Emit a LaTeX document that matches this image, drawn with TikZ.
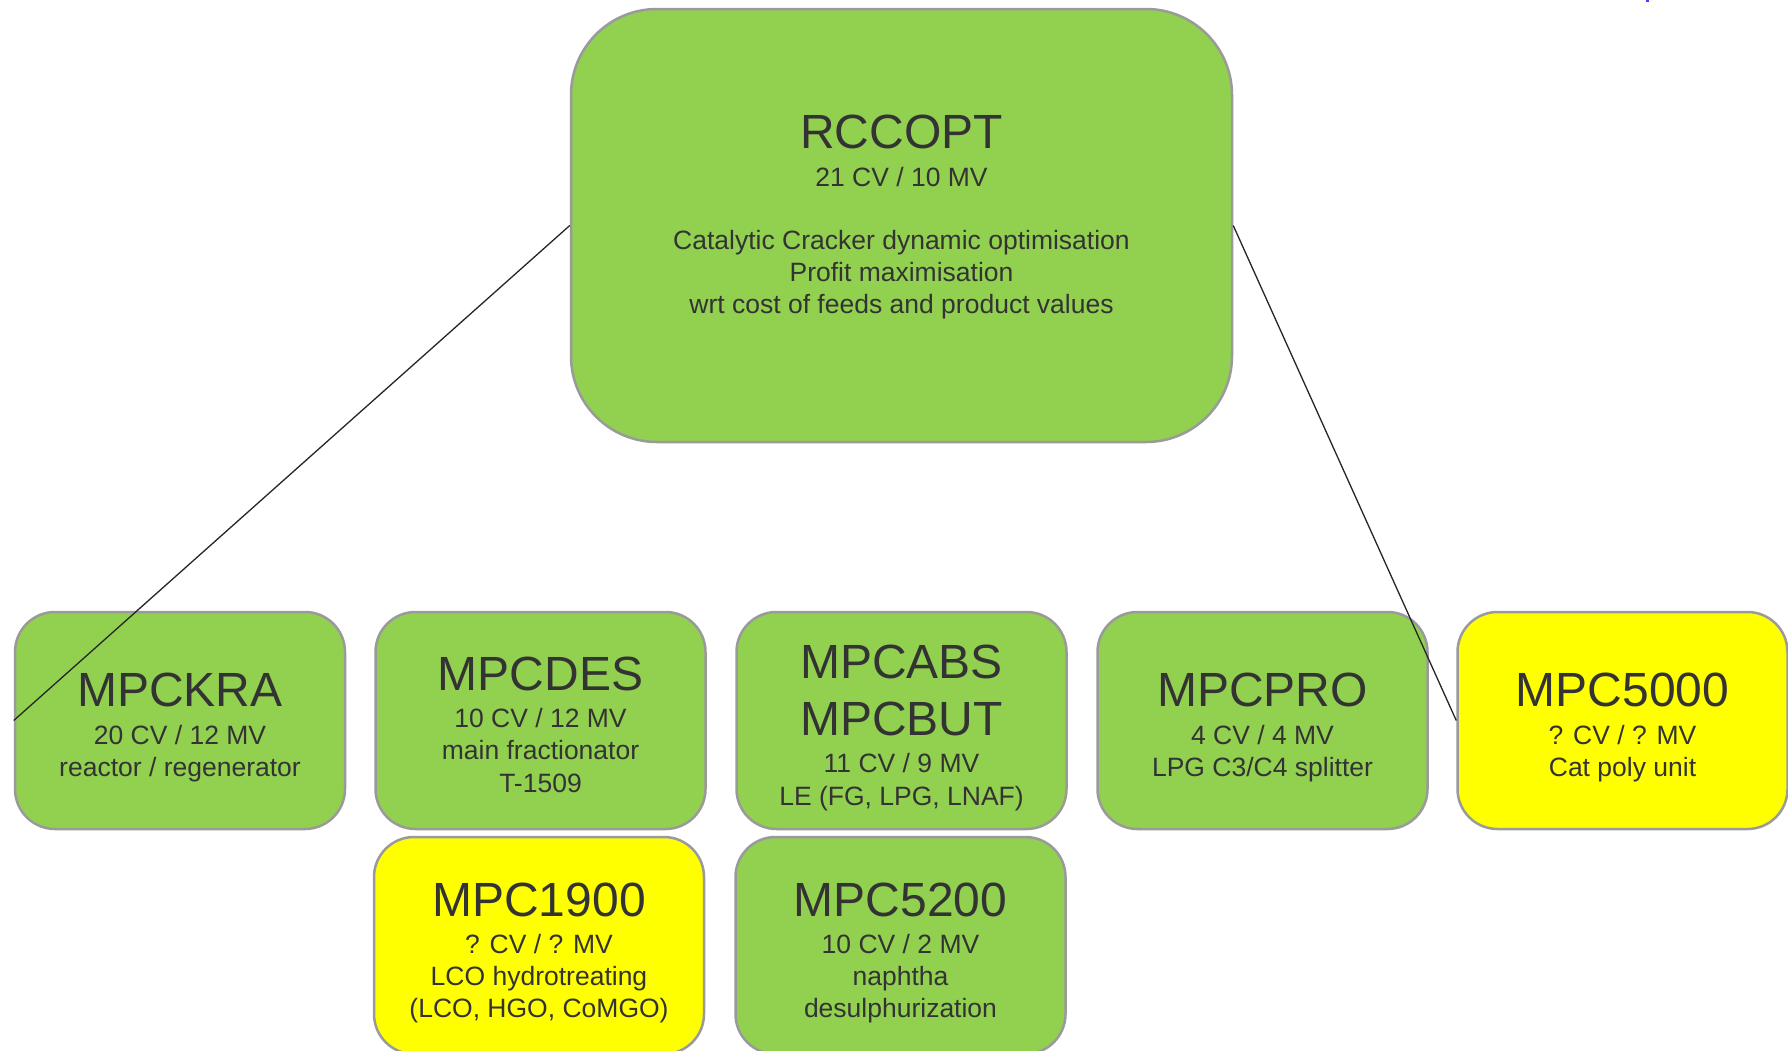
\documentclass[tikz,border=0pt]{standalone}
\usepackage{fontspec}
\setmainfont{Liberation Sans}
\definecolor{boxgreen}{HTML}{92D050}
\definecolor{boxyellow}{HTML}{FFFF00}
\definecolor{boxline}{HTML}{9A9A9A}
\definecolor{txt}{HTML}{333333}
\tikzset{
  mpcbox/.style={draw=boxline, line width=2.5pt, rounded corners=40pt, minimum width=330pt, minimum height=217pt, inner sep=0pt},
  greenbox/.style={mpcbox, fill=boxgreen},
  yellowbox/.style={mpcbox, fill=boxyellow},
  bigbox/.style={draw=boxline, line width=2.5pt, rounded corners=86pt, fill=boxgreen, minimum width=661pt, minimum height=433pt, inner sep=0pt},
  ttl/.style={anchor=base, text=txt, inner sep=0pt, font=\fontsize{48}{55}\selectfont},
  bdy/.style={anchor=base, text=txt, inner sep=0pt, font=\fontsize{26.5}{32}\selectfont},
  link/.style={draw=black!85, line width=1.3pt}
}
\begin{document}
\begin{tikzpicture}[x=1pt,y=-1pt]
\useasboundingbox (0,0) rectangle (1788,1050);
\fill[white] (0,0) rectangle (1788,1050);
% top box
\node[bigbox] (rccopt) at (901.5,225.5) {};
\node[ttl] (r1) at (901.5,148.5) {RCCOPT};
\node[bdy] (r2) at (901.5,186) {21 CV / 10 MV};
\node[bdy] (r3) at (901.5,249) {Catalytic Cracker dynamic optimisation};
\node[bdy] (r4) at (901.5,281) {Profit maximisation};
\node[bdy] (r5) at (901.5,313) {wrt cost of feeds and product values};
% row 1
\node[greenbox] (mpckra) at (180,720.5) {};
\node[ttl] (k1) at (180,706) {MPCKRA};
\node[bdy] (k2) at (180,744) {20 CV / 12 MV};
\node[bdy] (k3) at (180,776) {reactor / regenerator};

\node[greenbox] (mpcdes) at (540.5,720.5) {};
\node[ttl] (d1) at (540.5,690) {MPCDES};
\node[bdy] (d2) at (540.5,727) {10 CV / 12 MV};
\node[bdy] (d3) at (540.5,759) {main fractionator};
\node[bdy] (d4) at (540.5,792) {T-1509};

\node[greenbox] (mpcabs) at (901.5,720.5) {};
\node[ttl] (a1) at (901.5,678) {MPCABS};
\node[ttl] (a2) at (901.5,735) {MPCBUT};
\node[bdy] (a3) at (901.5,772) {11 CV / 9 MV};
\node[bdy] (a4) at (901.5,805) {LE (FG, LPG, LNAF)};

\node[greenbox] (mpcpro) at (1262.5,720.5) {};
\node[ttl] (p1) at (1262.5,706) {MPCPRO};
\node[bdy] (p2) at (1262.5,744) {4 CV / 4 MV};
\node[bdy] (p3) at (1262.5,776) {LPG C3/C4 splitter};

\node[yellowbox] (mpc5000) at (1622.5,720.5) {};
\node[ttl] (f1) at (1622.5,706) {MPC5000};
\node[bdy] (f2) at (1622.5,744) {? CV / ? MV};
\node[bdy] (f3) at (1622.5,776) {Cat poly unit};
% row 2
\node[yellowbox] (mpc1900) at (539,945.5) {};
\node[ttl] (h1) at (539,916) {MPC1900};
\node[bdy] (h2) at (539,953) {? CV / ? MV};
\node[bdy] (h3) at (539,985) {LCO hydrotreating};
\node[bdy] (h4) at (539,1017) {(LCO, HGO, CoMGO)};

\node[greenbox] (mpc5200) at (900.5,945.5) {};
\node[ttl] (n1) at (900.5,916) {MPC5200};
\node[bdy] (n2) at (900.5,953) {10 CV / 2 MV};
\node[bdy] (n3) at (900.5,985) {naphtha};
\node[bdy] (n4) at (900.5,1017) {desulphurization};
% connectors
\draw[link] (rccopt.west) -- (mpckra.west);
\draw[link] (rccopt.east) -- (mpc5000.west);
% small blue mark at top edge
\fill[blue!75] (1646,0) rectangle (1649,1.5);
\end{tikzpicture}
\end{document}
